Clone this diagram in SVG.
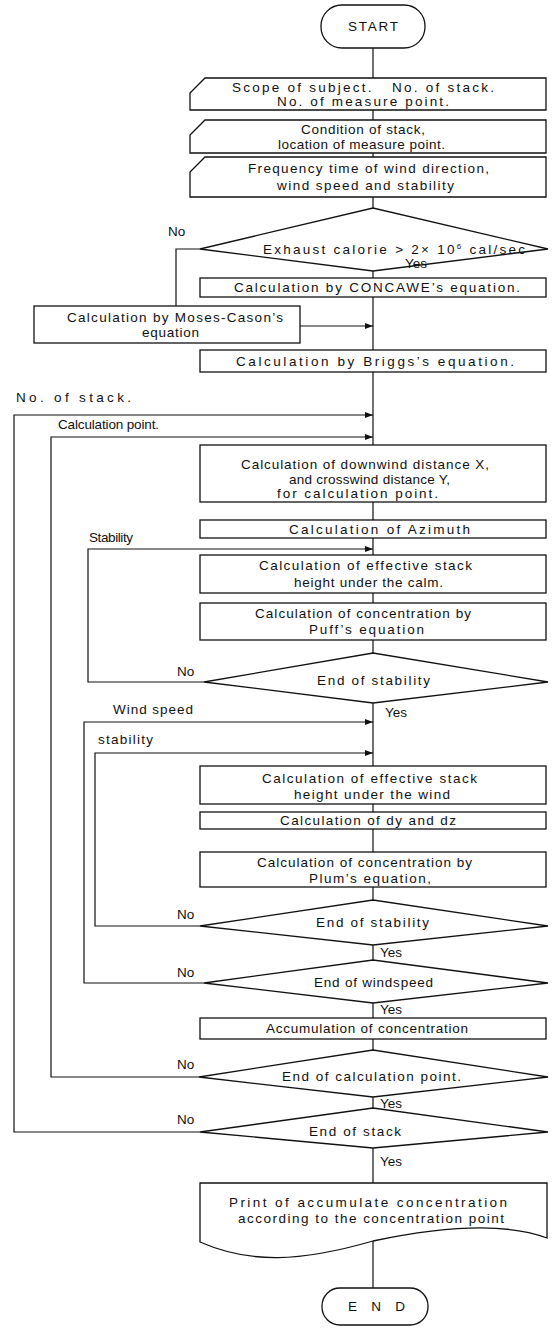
<svg xmlns="http://www.w3.org/2000/svg" width="556" height="1328" viewBox="0 0 556 1328">
<style>
.n{fill:#fff;stroke:#111;stroke-width:1.3}
.c{fill:none;stroke:#111;stroke-width:1.2}
.t{font-family:"Liberation Sans",Arial,sans-serif;font-size:13.5px;fill:#111}
</style>
<defs>
<marker id="a" markerWidth="8" markerHeight="6" refX="8" refY="3" orient="auto" markerUnits="userSpaceOnUse"><path d="M0,0 L8,3 L0,6 Z" fill="#111"/></marker>
</defs>
<rect width="556" height="1328" fill="#fff"/>
<g id="connectors">
<path class="c" d="M373,48 V78 M373,110 V120 M373,153 V157 M373,197 V208 M373,271 V278 M373,297 V350 M373,372 V445 M373,502 V520 M373,538 V555 M373,593 V603 M373,640 V653 M373,703 V766 M373,804 V812 M373,829 V852 M373,887 V900 M373,945 V960 M373,1003 V1018 M373,1039 V1050 M373,1097 V1108 M373,1148 V1183 M373,1241 V1288"/>
<path class="c" d="M200,249 H176 V306"/>
<path class="c" d="M300,326 H373" marker-end="url(#a)"/>
<path class="c" d="M200,1132 H14 V415 H373" marker-end="url(#a)"/>
<path class="c" d="M199,1077 H51 V437 H373" marker-end="url(#a)"/>
<path class="c" d="M204,682 H88 V549 H373" marker-end="url(#a)"/>
<path class="c" d="M204,983 H84 V722 H373" marker-end="url(#a)"/>
<path class="c" d="M200,926 H95 V753 H373" marker-end="url(#a)"/>
</g>
<g id="start"><rect class="n" x="321" y="5" width="104" height="43" rx="21"/><text class="t" x="348" y="31" textLength="50">START</text></g>
<g id="scope"><polygon class="n" points="205,78 546,78 546,110 190,110 190,93"/><text class="t" x="232" y="92" textLength="262" lengthAdjust="spacing" xml:space="preserve">Scope of subject.   No. of stack.</text><text class="t" x="277" y="106" textLength="172">No. of measure point.</text></g>
<g id="condition"><polygon class="n" points="205,120 546,120 546,153 190,153 190,135"/><text class="t" x="301" y="134" textLength="124">Condition of stack,</text><text class="t" x="278" y="149" textLength="167">location of measure point.</text></g>
<g id="frequency"><polygon class="n" points="205,157 546,157 546,197 190,197 190,172"/><text class="t" x="248" y="173" textLength="241">Frequency time of wind direction,</text><text class="t" x="277" y="190" textLength="177">wind speed and stability</text></g>
<g id="exhaust"><polygon class="n" points="200,249 373,208 548,249 373,271"/><text class="t" x="263" y="254" textLength="262">Exhaust calorie &gt; 2× 10<tspan font-size="8" dy="-5">6</tspan><tspan dy="5"> cal/sec</tspan></text><text class="t" x="168" y="236">No</text><text class="t" x="405" y="268">Yes</text></g>
<g id="concawe"><rect class="n" x="200" y="278" width="346" height="19"/><text class="t" x="234" y="292" textLength="286">Calculation by CONCAWE’s equation.</text></g>
<g id="moses"><rect class="n" x="34" y="306" width="266" height="37"/><text class="t" x="67" y="322" textLength="216">Calculation by Moses-Cason’s</text><text class="t" x="142" y="337" textLength="57">equation</text></g>
<g id="briggs"><rect class="n" x="200" y="350" width="346" height="22"/><text class="t" x="236" y="366" textLength="278">Calculation by Briggs’s equation.</text></g>
<g id="loop-labels"><text class="t" x="16" y="402" textLength="115">No. of stack.</text><text class="t" x="58" y="429" textLength="101">Calculation point.</text><text class="t" x="89" y="542" textLength="44">Stability</text><text class="t" x="113" y="714" textLength="80">Wind speed</text><text class="t" x="98" y="744" textLength="55">stability</text></g>
<g id="downwind"><rect class="n" x="200" y="445" width="346" height="57"/><text class="t" x="241" y="469" textLength="248">Calculation of downwind distance X,</text><text class="t" x="289" y="484" textLength="161">and crosswind distance Y,</text><text class="t" x="277" y="498" textLength="161">for calculation point.</text></g>
<g id="azimuth"><rect class="n" x="200" y="520" width="346" height="18"/><text class="t" x="289" y="534" textLength="181">Calculation of Azimuth</text></g>
<g id="calm"><rect class="n" x="200" y="555" width="346" height="38"/><text class="t" x="259" y="570" textLength="213">Calculation of effective stack</text><text class="t" x="294" y="587" textLength="149">height under the calm.</text></g>
<g id="puff"><rect class="n" x="200" y="603" width="346" height="37"/><text class="t" x="255" y="618" textLength="216">Calculation of concentration by</text><text class="t" x="309" y="634" textLength="115">Puff’s equation</text></g>
<g id="end-stability-1"><polygon class="n" points="204,682 373,653 548,682 373,703"/><text class="t" x="317" y="685" textLength="113">End of stability</text><text class="t" x="177" y="676">No</text><text class="t" x="385" y="717">Yes</text></g>
<g id="wind-height"><rect class="n" x="200" y="766" width="346" height="38"/><text class="t" x="262" y="783" textLength="215">Calculation of effective stack</text><text class="t" x="294" y="799" textLength="156">height under the wind</text></g>
<g id="dydz"><rect class="n" x="200" y="812" width="346" height="17"/><text class="t" x="280" y="825" textLength="176">Calculation of dy and dz</text></g>
<g id="plum"><rect class="n" x="200" y="852" width="346" height="35"/><text class="t" x="257" y="867" textLength="215">Calculation of concentration by</text><text class="t" x="309" y="883" textLength="122">Plum’s equation,</text></g>
<g id="end-stability-2"><polygon class="n" points="200,926 373,900 548,926 373,945"/><text class="t" x="316" y="927" textLength="113">End of stability</text><text class="t" x="177" y="919">No</text><text class="t" x="380" y="957">Yes</text></g>
<g id="end-windspeed"><polygon class="n" points="204,983 373,960 548,983 373,1003"/><text class="t" x="314" y="987" textLength="119">End of windspeed</text><text class="t" x="177" y="977">No</text><text class="t" x="380" y="1014">Yes</text></g>
<g id="accumulation"><rect class="n" x="200" y="1018" width="346" height="21"/><text class="t" x="266" y="1033" textLength="202">Accumulation of concentration</text></g>
<g id="end-calc-point"><polygon class="n" points="199,1077 373,1050 548,1077 373,1097"/><text class="t" x="282" y="1081" textLength="179">End of calculation point.</text><text class="t" x="177" y="1069">No</text><text class="t" x="380" y="1108">Yes</text></g>
<g id="end-stack"><polygon class="n" points="200,1132 373,1108 548,1132 373,1148"/><text class="t" x="309" y="1136" textLength="92">End of stack</text><text class="t" x="177" y="1124">No</text><text class="t" x="380" y="1166">Yes</text></g>
<g id="print"><path class="n" d="M200,1183 H547 V1238 C505,1222 445,1226 373,1241 C300,1262 250,1264 200,1242 Z"/><text class="t" x="229" y="1207" textLength="278">Print of accumulate concentration</text><text class="t" x="238" y="1223" textLength="266">according to the concentration point</text></g>
<g id="end"><rect class="n" x="322" y="1288" width="106" height="37" rx="18"/><text class="t" x="348" y="1311" textLength="57">E N D</text></g>
</svg>
